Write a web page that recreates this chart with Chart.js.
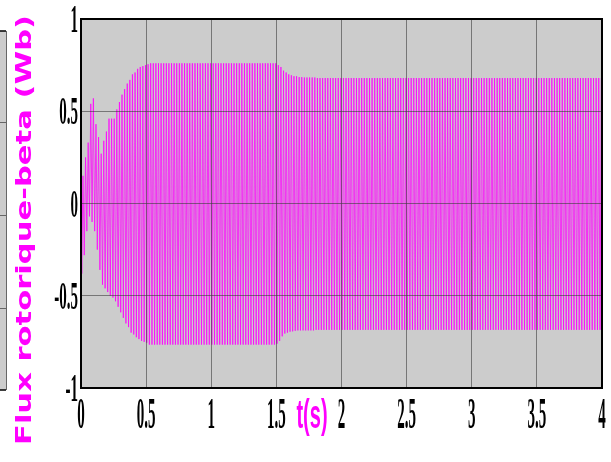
<!DOCTYPE html>
<html>
<head>
<meta charset="utf-8">
<script src="https://cdn.jsdelivr.net/npm/chart.js@4.4.1/dist/chart.umd.min.js"></script>
<style>
  body { margin: 0; background: #fff; }
  canvas { display: block; }
</style>
</head>
<body>
<canvas id="chart" width="611" height="462"></canvas>
<script>
// 50 Hz signal, one negative and one positive peak per 20 ms cycle
var period = 0.02;
var startValue = 0;

var upperPeaks = [
  0.15, 0.25, 0.33, 0.54, 0.57, 0.43, 0.36, 0.27, 0.34, 0.39, 0.46, 0.46, 0.46, 0.51, 0.55, 0.59, 0.62, 0.65, 0.67, 0.70,
  0.71, 0.73, 0.74, 0.745, 0.75, 0.755, 0.76, 0.76, 0.76, 0.76, 0.76, 0.76, 0.76, 0.76, 0.76, 0.76, 0.76, 0.76, 0.76, 0.76,
  0.76, 0.76, 0.76, 0.76, 0.76, 0.76, 0.76, 0.76, 0.76, 0.76, 0.76, 0.76, 0.76, 0.76, 0.76, 0.76, 0.76, 0.76, 0.76, 0.76,
  0.76, 0.76, 0.76, 0.76, 0.76, 0.76, 0.76, 0.76, 0.76, 0.76, 0.76, 0.76, 0.76, 0.76, 0.76, 0.75, 0.74, 0.72, 0.71, 0.70,
  0.695, 0.69, 0.69, 0.685, 0.685, 0.683, 0.683, 0.683, 0.683, 0.683, 0.68, 0.68, 0.68, 0.68, 0.68, 0.68, 0.68, 0.68, 0.68, 0.68,
  0.68, 0.68, 0.68, 0.68, 0.68, 0.68, 0.68, 0.68, 0.68, 0.68, 0.68, 0.68, 0.68, 0.68, 0.68, 0.68, 0.68, 0.68, 0.68, 0.68,
  0.68, 0.68, 0.68, 0.68, 0.68, 0.68, 0.68, 0.68, 0.68, 0.68, 0.68, 0.68, 0.68, 0.68, 0.68, 0.68, 0.68, 0.68, 0.68, 0.68,
  0.68, 0.68, 0.68, 0.68, 0.68, 0.68, 0.68, 0.68, 0.68, 0.68, 0.68, 0.68, 0.68, 0.68, 0.68, 0.68, 0.68, 0.68, 0.68, 0.68,
  0.68, 0.68, 0.68, 0.68, 0.68, 0.68, 0.68, 0.68, 0.68, 0.68, 0.68, 0.68, 0.68, 0.68, 0.68, 0.68, 0.68, 0.68, 0.68, 0.68,
  0.68, 0.68, 0.68, 0.68, 0.68, 0.68, 0.68, 0.68, 0.68, 0.68, 0.68, 0.68, 0.68, 0.68, 0.68, 0.68, 0.68, 0.68, 0.68, 0.68
];

var lowerPeaks = [
  -0.38, -0.28, -0.15, -0.07, -0.10, -0.15, -0.25, -0.36, -0.44, -0.46, -0.48, -0.50, -0.51, -0.53, -0.56, -0.59, -0.62, -0.65, -0.67, -0.70,
  -0.71, -0.725, -0.735, -0.745, -0.75, -0.755, -0.765, -0.765, -0.765, -0.765, -0.765, -0.765, -0.765, -0.765, -0.765, -0.765, -0.765, -0.765, -0.765, -0.765,
  -0.765, -0.765, -0.765, -0.765, -0.765, -0.765, -0.765, -0.765, -0.765, -0.765, -0.765, -0.765, -0.765, -0.765, -0.765, -0.765, -0.765, -0.765, -0.765, -0.765,
  -0.765, -0.765, -0.765, -0.765, -0.765, -0.765, -0.765, -0.765, -0.765, -0.765, -0.765, -0.765, -0.765, -0.765, -0.765, -0.76, -0.745, -0.72, -0.705, -0.70,
  -0.695, -0.693, -0.69, -0.688, -0.688, -0.688, -0.688, -0.688, -0.688, -0.688, -0.685, -0.685, -0.685, -0.685, -0.685, -0.685, -0.685, -0.685, -0.685, -0.685,
  -0.685, -0.685, -0.685, -0.685, -0.685, -0.685, -0.685, -0.685, -0.685, -0.685, -0.685, -0.685, -0.685, -0.685, -0.685, -0.685, -0.685, -0.685, -0.685, -0.685,
  -0.685, -0.685, -0.685, -0.685, -0.685, -0.685, -0.685, -0.685, -0.685, -0.685, -0.685, -0.685, -0.685, -0.685, -0.685, -0.685, -0.685, -0.685, -0.685, -0.685,
  -0.685, -0.685, -0.685, -0.685, -0.685, -0.685, -0.685, -0.685, -0.685, -0.685, -0.685, -0.685, -0.685, -0.685, -0.685, -0.685, -0.685, -0.685, -0.685, -0.685,
  -0.685, -0.685, -0.685, -0.685, -0.685, -0.685, -0.685, -0.685, -0.685, -0.685, -0.685, -0.685, -0.685, -0.685, -0.685, -0.685, -0.685, -0.685, -0.685, -0.685,
  -0.685, -0.685, -0.685, -0.685, -0.685, -0.685, -0.685, -0.685, -0.685, -0.685, -0.685, -0.685, -0.685, -0.685, -0.685, -0.685, -0.685, -0.685, -0.685, -0.685
];

var xTicks = [0, 0.5, 1, 1.5, 2, 2.5, 3, 3.5, 4];
var xTickLabels = ['0', '0.5', '1', '1.5', '2', '2.5', '3', '3.5', '4'];
var yTicks = [1, 0.5, 0, -0.5, -1];
var yTickLabels = ['1', '0.5', '0', '-0.5', '-1'];
var xTitle = 't(s)';
var yTitle = 'Flux rotorique-beta (Wb)';

var magenta = '#ff00ff';
var plotGray = '#cccccc';

function buildPoints(){
    var pts = [{x: 0, y: startValue}];
    for(var i = 0; i < upperPeaks.length; i++){
        pts.push({x: (i + 0.25) * period, y: lowerPeaks[i]});
        pts.push({x: (i + 0.75) * period, y: upperPeaks[i]});
    }
    return pts;
}

// squeezed / stretched text like the exported figure
function stretchText(ctx, text, x, y, sx, sy){
    ctx.save();
    ctx.translate(x, y);
    ctx.scale(sx, sy);
    ctx.fillText(text, 0, 0);
    ctx.restore();
}

var decor = {
    id: 'decor',
    beforeDraw: function(chart){
        var ctx = chart.ctx;
        var a = chart.chartArea;
        ctx.save();
        ctx.fillStyle = '#ffffff';
        ctx.fillRect(0, 0, chart.width, chart.height);
        ctx.fillStyle = plotGray;
        ctx.fillRect(a.left, a.top, a.right - a.left, a.bottom - a.top);

        // edge of the neighbouring figure on the left
        ctx.fillRect(0, 31, 6, 359);
        ctx.strokeStyle = '#000';
        ctx.lineWidth = 1.5;
        ctx.beginPath();
        ctx.moveTo(0, 31); ctx.lineTo(6, 31);
        ctx.moveTo(0, 390); ctx.lineTo(6, 390);
        ctx.stroke();
        ctx.strokeStyle = '#666';
        ctx.lineWidth = 1;
        ctx.beginPath();
        ctx.moveTo(6.5, 31); ctx.lineTo(6.5, 390);
        [122, 215, 308].forEach(function(y){
            ctx.moveTo(0, y + 0.5); ctx.lineTo(6, y + 0.5);
        });
        ctx.stroke();
        ctx.restore();
    },
    afterDraw: function(chart){
        var ctx = chart.ctx;
        var a = chart.chartArea;
        var xs = chart.scales.x;
        var ys = chart.scales.y;
        ctx.save();

        ctx.strokeStyle = '#000';
        ctx.lineWidth = 2;
        ctx.strokeRect(a.left, a.top, a.right - a.left, a.bottom - a.top);

        ctx.fillStyle = '#000';
        ctx.font = 'bold 15px "Liberation Serif"';
        ctx.textAlign = 'right';
        ctx.textBaseline = 'middle';
        for(var i = 0; i < yTicks.length; i++){
            stretchText(ctx, yTickLabels[i], a.left - 3, ys.getPixelForValue(yTicks[i]) + 3, 1, 2.6);
        }
        ctx.textAlign = 'center';
        ctx.textBaseline = 'alphabetic';
        for(var j = 0; j < xTicks.length; j++){
            stretchText(ctx, xTickLabels[j], xs.getPixelForValue(xTicks[j]), a.bottom + 40, 1, 3.0);
        }

        ctx.fillStyle = magenta;
        ctx.font = 'bold 20px "Liberation Sans"';
        stretchText(ctx, xTitle, 312, a.bottom + 40, 1, 2.0);

        ctx.font = 'bold 21px "DejaVu Sans"';
        var w = ctx.measureText(yTitle).width;
        ctx.translate(31, 230);
        ctx.rotate(-Math.PI / 2);
        ctx.scale(430 / w, 1);
        ctx.fillText(yTitle, 0, 0);
        ctx.restore();
    }
};

var ctx = document.getElementById('chart').getContext('2d');
var chart = new Chart(ctx, {
    type: 'line',
    data: {
        datasets: [{
            data: buildPoints(),
            borderColor: magenta,
            borderWidth: 0.75,
            pointRadius: 0,
            tension: 0,
            fill: false
        }]
    },
    options: {
        responsive: false,
        animation: false,
        layout: {padding: {left: 81, right: 9, top: 19, bottom: 74}},
        plugins: {legend: {display: false}, tooltip: {enabled: false}},
        scales: {
            x: {
                type: 'linear', min: 0, max: 4,
                ticks: {display: false, stepSize: 0.5},
                grid: {color: 'rgba(60,60,60,0.6)', lineWidth: 1, drawTicks: false, z: 1},
                border: {display: false}
            },
            y: {
                type: 'linear', min: -1, max: 1,
                ticks: {display: false, stepSize: 0.5},
                grid: {color: 'rgba(60,60,60,0.6)', lineWidth: 1, drawTicks: false, z: 1},
                border: {display: false}
            }
        }
    },
    plugins: [decor]
});
</script>
</body>
</html>
